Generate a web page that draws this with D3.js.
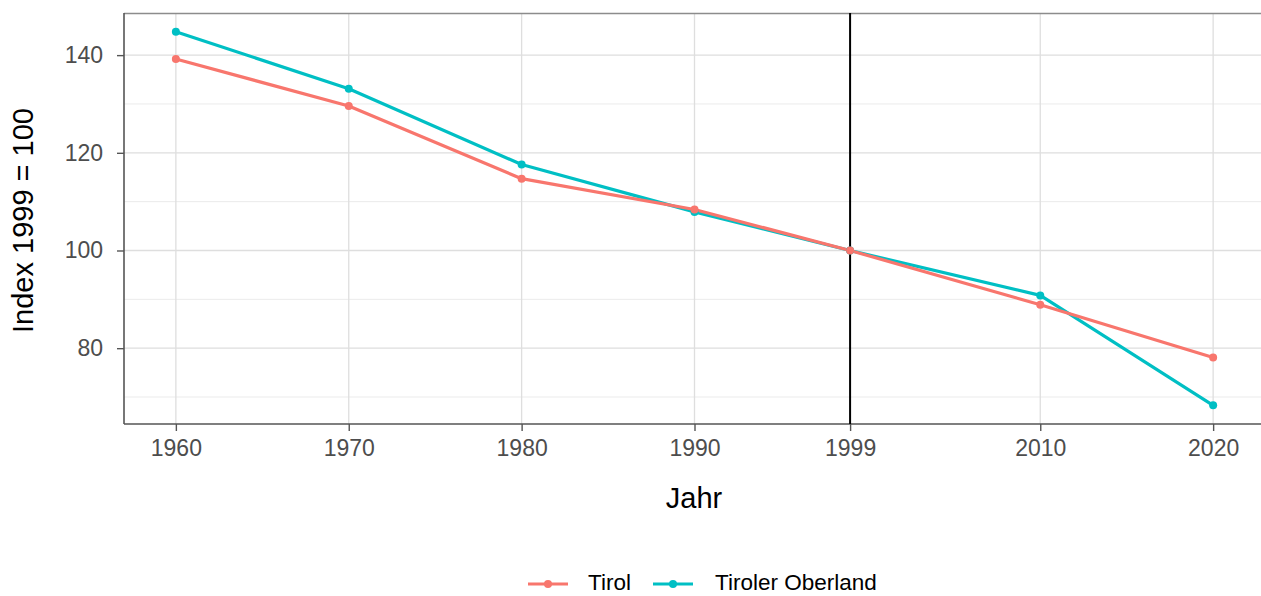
<!DOCTYPE html>
<html><head><meta charset="utf-8">
<script src="https://cdn.jsdelivr.net/npm/d3@7"></script>
<style>body{margin:0;background:#fff}svg{display:block;font-family:"Liberation Sans",Arial,sans-serif}</style>
</head><body>
<svg id="c" width="1261" height="596"></svg>
<script>
const years = [1960, 1970, 1980, 1990, 1999, 2010, 2020];
const tirol = [139.2, 129.6, 114.7, 108.4, 100, 88.9, 78.1];
const oberland = [144.8, 133.1, 117.6, 107.9, 100, 90.8, 68.3];
const seriesNames = ["Tirol", "Tiroler Oberland"];
const seriesColors = ["#F8766D", "#00BFC4"];
const yMajor = [80, 100, 120, 140];
const yMinor = [70, 90, 110, 130];
const refYear = 1999;

const svg = d3.select("#c");
const L = 124, R = 1265, T = 13, B = 424;

const xs = d3.extent(years), xr = xs[1]-xs[0];
const x = d3.scaleLinear().domain([xs[0]-0.05*xr, xs[1]+0.05*xr]).range([L, R]);
const allY = tirol.concat(oberland);
const ye = d3.extent(allY), yr = ye[1]-ye[0];
const y = d3.scaleLinear().domain([ye[0]-0.05*yr, ye[1]+0.05*yr]).range([B, T]);

const g = svg.append("g");
g.selectAll(".ymin").data(yMinor).join("line")
  .attr("x1", L).attr("x2", R).attr("y1", d=>y(d)).attr("y2", d=>y(d))
  .attr("stroke", "#ebebeb").attr("stroke-width", 1);
g.selectAll(".ymaj").data(yMajor).join("line")
  .attr("x1", L).attr("x2", R).attr("y1", d=>y(d)).attr("y2", d=>y(d))
  .attr("stroke", "#dedede").attr("stroke-width", 1.3);
g.selectAll(".xmaj").data(years).join("line")
  .attr("y1", T).attr("y2", B).attr("x1", d=>x(d)).attr("x2", d=>x(d))
  .attr("stroke", "#dedede").attr("stroke-width", 1.3);

svg.append("line").attr("x1", L).attr("x2", R).attr("y1", T+0.5).attr("y2", T+0.5)
  .attr("stroke", "#8c8c8c").attr("stroke-width", 1.4);

const xAxis = d3.axisBottom(x).tickValues(years).tickFormat(d3.format("d")).tickSize(7).tickPadding(9);
const yAxis = d3.axisLeft(y).tickValues(yMajor).tickSize(7).tickPadding(14);
const gx = svg.append("g").attr("transform", `translate(0,${B})`).call(xAxis);
const gy = svg.append("g").attr("transform", `translate(${L},0)`).call(yAxis);
[gx, gy].forEach(a => {
  a.select(".domain").attr("stroke", "#555").attr("stroke-width", 1.6);
  a.selectAll(".tick line").attr("stroke", "#555").attr("stroke-width", 1.4);
  a.selectAll(".tick text").attr("fill", "#4d4d4d").style("font-size", "23px");
});
gy.select(".domain").attr("d", `M0,${B}V${T}`);
gx.select(".domain").attr("d", `M${L},0H${R}`);

svg.append("line").attr("x1", x(refYear)).attr("x2", x(refYear)).attr("y1", T).attr("y2", B)
  .attr("stroke", "#000").attr("stroke-width", 2);

const series = [
  {name: seriesNames[0], color: seriesColors[0], vals: tirol},
  {name: seriesNames[1], color: seriesColors[1], vals: oberland}
];
const line = d3.line().x((d,i)=>x(years[i])).y(d=>y(d));
const drawOrder = [series[1], series[0]];
drawOrder.forEach(s => {
  svg.append("path").attr("d", line(s.vals)).attr("fill", "none")
    .attr("stroke", s.color).attr("stroke-width", 3.2).attr("stroke-linejoin", "round");
});
drawOrder.forEach(s => {
  svg.append("g").selectAll("circle").data(s.vals).join("circle")
    .attr("cx", (d,i)=>x(years[i])).attr("cy", d=>y(d)).attr("r", 4).attr("fill", s.color);
});

svg.append("text").attr("x", 694).attr("y", 508).attr("text-anchor", "middle")
  .style("font-size", "29px").attr("fill", "#000").text("Jahr");
svg.append("text").attr("transform", `translate(33,${(T+B)/2 + 2}) rotate(-90)`).attr("text-anchor", "middle")
  .style("font-size", "29px").attr("fill", "#000").text("Index 1999 = 100");

const leg = svg.append("g");
const items = [{s: series[0], x0: 528, tx: 588}, {s: series[1], x0: 653, tx: 715}];
items.forEach(it => {
  leg.append("line").attr("x1", it.x0).attr("x2", it.x0+40).attr("y1", 584).attr("y2", 584)
    .attr("stroke", it.s.color).attr("stroke-width", 3.2);
  leg.append("circle").attr("cx", it.x0+20).attr("cy", 584).attr("r", 4).attr("fill", it.s.color);
  leg.append("text").attr("x", it.tx).attr("y", 590).style("font-size", "22.5px").attr("fill", "#000").text(it.s.name);
});
</script>
</body></html>
